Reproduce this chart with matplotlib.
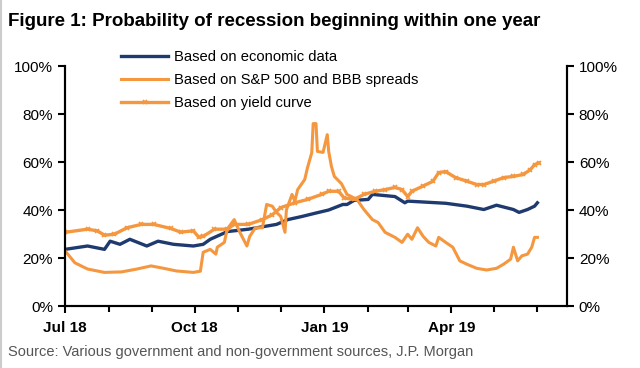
import pandas as pd
import matplotlib.pyplot as plt
import matplotlib.dates as mdates
from matplotlib.lines import Line2D
from matplotlib.ticker import FuncFormatter, MultipleLocator

plt.rcParams['font.family'] = ['Liberation Sans', 'DejaVu Sans']

# Based on economic data
econ_dates = ['2018-07-01', '2018-07-17', '2018-07-29', '2018-08-02', '2018-08-09', '2018-08-16',
              '2018-08-28', '2018-09-05', '2018-09-16', '2018-09-30', '2018-10-07', '2018-10-12',
              '2018-10-23', '2018-10-24', '2018-11-08', '2018-11-18', '2018-11-28', '2018-12-06',
              '2018-12-16', '2018-12-25', '2019-01-04', '2019-01-14', '2019-01-17', '2019-01-22',
              '2019-02-01', '2019-02-04', '2019-02-20', '2019-02-27', '2019-03-01', '2019-03-28',
              '2019-04-12', '2019-04-24', '2019-05-03', '2019-05-15', '2019-05-19', '2019-05-25',
              '2019-05-30', '2019-06-01']
econ_vals = [23.6, 25, 23.6, 27, 25.7, 27.8,
             25, 27, 25.7, 25, 25.7, 27.8,
             30.7, 31, 32, 33, 34, 36,
             37.3, 38.6, 40, 42.3, 42.3, 44,
             44.4, 46.5, 45.6, 43, 43.7, 42.8,
             41.6, 40.2, 42, 40.2, 39, 40.2,
             41.6, 43]

# Based on S&P 500 and BBB spreads
spx_dates = ['2018-07-01', '2018-07-08', '2018-07-17', '2018-07-29', '2018-08-10', '2018-08-21',
             '2018-08-31', '2018-09-09', '2018-09-18', '2018-09-30', '2018-10-05', '2018-10-07',
             '2018-10-12', '2018-10-16', '2018-10-17', '2018-10-22', '2018-10-24', '2018-10-29',
             '2018-11-02', '2018-11-07', '2018-11-09', '2018-11-13', '2018-11-18', '2018-11-21',
             '2018-11-25', '2018-11-28', '2018-12-01', '2018-12-04', '2018-12-05', '2018-12-09',
             '2018-12-11', '2018-12-13', '2018-12-18', '2018-12-20', '2018-12-23', '2018-12-24',
             '2018-12-26', '2018-12-27', '2018-12-31', '2019-01-03', '2019-01-04', '2019-01-06',
             '2019-01-08', '2019-01-13', '2019-01-17', '2019-01-24', '2019-01-29', '2019-02-04',
             '2019-02-08', '2019-02-13', '2019-02-20', '2019-02-25', '2019-03-01', '2019-03-04',
             '2019-03-08', '2019-03-12', '2019-03-16', '2019-03-21', '2019-03-23', '2019-03-28',
             '2019-04-02', '2019-04-07', '2019-04-12', '2019-04-19', '2019-04-26', '2019-05-03',
             '2019-05-08', '2019-05-13', '2019-05-15', '2019-05-18', '2019-05-21', '2019-05-25',
             '2019-05-28', '2019-05-30', '2019-06-01']
spx_vals = [23, 18, 15.4, 14, 14.2, 15.4,
            16.7, 15.7, 14.6, 14, 14.5, 22.4,
            23.6, 21.6, 24.5, 26.5, 32, 36,
            30.7, 25, 29, 32.6, 32.6, 42.3,
            41.6, 39, 37.3, 30.7, 40, 46.5,
            43.7, 48.5, 52.7, 57.7, 63.9, 76,
            76, 64.4, 64, 71.4, 64.4, 58,
            54, 51, 46.5, 44.4, 40.2, 36,
            34.8, 30.7, 28.6, 26.5, 29.9, 27.8,
            32.6, 29, 26.5, 25, 28.6, 26.5,
            24.5, 18.8, 17.4, 15.7, 15, 15.7,
            17.4, 19.5, 24.5, 18.8, 20.9, 21.6,
            24.5, 28.6, 28.6]

# Based on yield curve
yc_dates = ['2018-07-01', '2018-07-17', '2018-07-24', '2018-07-29', '2018-08-05', '2018-08-14',
            '2018-08-24', '2018-09-02', '2018-09-14', '2018-09-21', '2018-09-30', '2018-10-04',
            '2018-10-07', '2018-10-15', '2018-10-24', '2018-10-29', '2018-11-08', '2018-11-18',
            '2018-11-25', '2018-12-01', '2018-12-11', '2018-12-20', '2018-12-30', '2019-01-04',
            '2019-01-11', '2019-01-15', '2019-01-22', '2019-01-29', '2019-02-06', '2019-02-13',
            '2019-02-20', '2019-02-25', '2019-03-01', '2019-03-04', '2019-03-12', '2019-03-19',
            '2019-03-23', '2019-03-28', '2019-04-04', '2019-04-12', '2019-04-19', '2019-04-24',
            '2019-05-01', '2019-05-08', '2019-05-15', '2019-05-22', '2019-05-27', '2019-05-30',
            '2019-06-02']
yc_vals = [30.7, 32, 31.3, 29.5, 29.9, 32.6,
           34, 34, 32.3, 30.8, 31.3, 28.6,
           29, 32, 32, 34, 34, 36,
           38, 41, 43, 44.4, 46.5, 47.8,
           47.8, 45, 44.4, 46.5, 47.8, 48.5,
           49.4, 48.5, 45.6, 47.8, 50, 52,
           55.6, 56, 53.5, 52, 50.6, 50.6,
           52, 53.5, 54, 54.8, 56.8, 58.9,
           59.6]

title = 'Figure 1: Probability of recession beginning within one year'
source = 'Source: Various government and non-government sources, J.P. Morgan'

navy = '#1F3A6E'
orange = '#F5973F'

fig = plt.figure(figsize=(6.4, 3.68), dpi=100)
ax = fig.add_axes([65 / 640, 1 - 306 / 368, (567 - 65) / 640, (306 - 66) / 368])

ax.plot(pd.to_datetime(econ_dates), econ_vals, color=navy, lw=2.4, label='Based on economic data')
ax.plot(pd.to_datetime(spx_dates), spx_vals, color=orange, lw=2.2,
        label='Based on S&P 500 and BBB spreads')
ax.plot(pd.to_datetime(yc_dates), yc_vals, color=orange, lw=2.4, marker='x', ms=3.5, mew=1.2,
        label='Based on yield curve')

ax.set_xlim(pd.Timestamp('2018-07-01'), pd.Timestamp('2019-06-22'))
ax.set_ylim(0, 100)

pct = FuncFormatter(lambda v, p: '{:.0f}%'.format(v))
ax.yaxis.set_major_locator(MultipleLocator(20))
ax.yaxis.set_major_formatter(pct)
ax.xaxis.set_major_locator(mdates.MonthLocator(bymonth=[1, 4, 7, 10]))
ax.xaxis.set_minor_locator(mdates.MonthLocator())
ax.xaxis.set_major_formatter(mdates.DateFormatter('%b %y'))
for lab in ax.get_xticklabels():
    lab.set_fontweight('bold')
ax.tick_params(axis='x', which='major', length=5, width=1.5, labelsize=11, pad=6)
ax.tick_params(axis='x', which='minor', length=4, width=1.5)
ax.tick_params(axis='y', length=5, width=1.5, labelsize=11)

ax2 = ax.twinx()
ax2.set_ylim(0, 100)
ax2.yaxis.set_major_locator(MultipleLocator(20))
ax2.yaxis.set_major_formatter(pct)
ax2.tick_params(axis='y', length=5, width=1.5, labelsize=11)

for a in (ax, ax2):
    a.spines['top'].set_visible(False)
    for s in ('left', 'right', 'bottom'):
        a.spines[s].set_linewidth(1.5)

fig.legend(*ax.get_legend_handles_labels(), loc='upper left',
           bbox_to_anchor=(114 / 640, 1 - 43 / 368), frameon=False, fontsize=10.6,
           handlelength=3.2, handletextpad=0.4, labelspacing=0.6, borderpad=0, numpoints=1)

fig.text(8 / 640, 1 - 22 / 368, title, fontsize=13.5, fontweight='bold', va='center')
fig.text(8 / 640, 1 - 352 / 368, source, fontsize=10.5, color='#555555', va='center')
fig.add_artist(Line2D([0.001, 0.001], [0, 1], color='#cccccc', lw=1.5))

fig.savefig('out.png', dpi=100)
